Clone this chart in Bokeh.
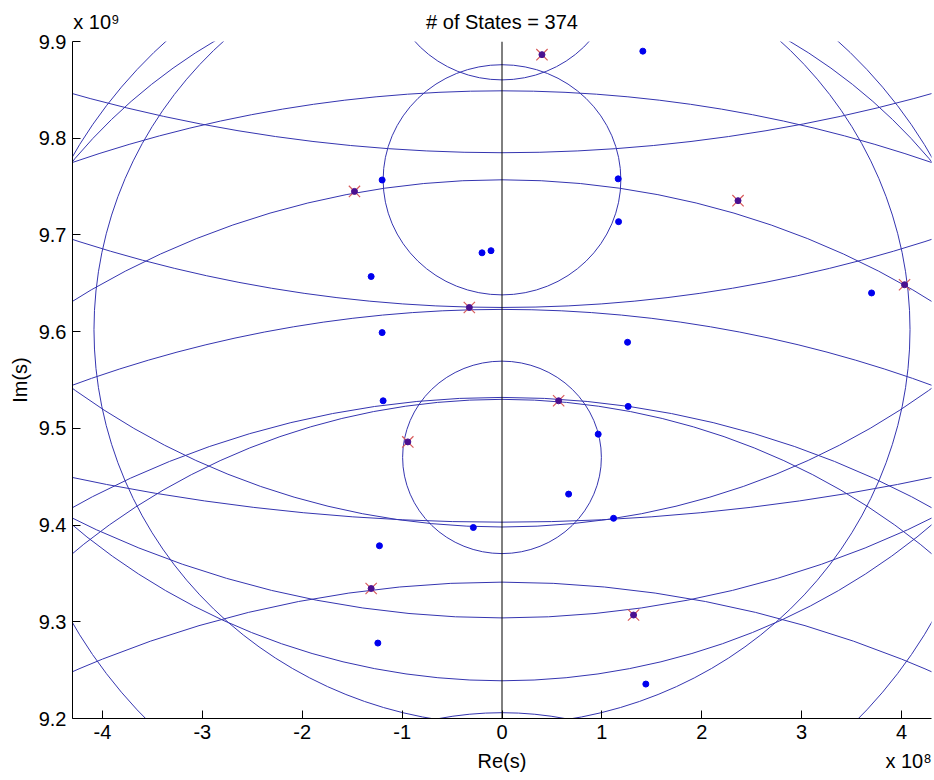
import numpy as np
from bokeh.plotting import figure
from bokeh.models import FixedTicker, Span, LinearAxis, AllLabels
from bokeh.embed import file_html
from bokeh.resources import INLINE

# ---- data (s-plane) ----
# circles centred on the imaginary axis: centre Im(s) and radius
circle_center_im = [9.602e9, 9.757e9, 9.470e9, 9.976e9, 8.871e9, 9.540e9, 9.4285e9,
                    8.563e9, 11.331e9, 8.957e9, 10.975e9, 8.403e9, 8.870e9, 8.662e9,
                    10.115e9, 11.433e9, 8.296e9, 10.254e9, 9.894e9]
circle_radius = [4.085e8, 1.19e8, 0.995e8, 1.157e8, 3.35e8, 4.93e8, 5.53e8,
                 12.86e8, 15.46e8, 8.0e8, 13.5e8, 12.2e8, 6.6e8, 8.70e8,
                 7.17e8, 20.3e8, 10.45e8, 9.5e8, 6.55e8]

state_re = [-1.20e8, 1.163e8, 1.167e8, -0.20e8, -0.11e8, 1.41e8, -1.31e8, -1.20e8, 1.257e8,
            -1.19e8, 1.263e8, 0.963e8, 0.667e8, 1.117e8, -0.287e8, -1.227e8, -1.243e8,
            1.44e8, 3.70e8]
state_im = [9.7568e9, 9.758e9, 9.7137e9, 9.6815e9, 9.6837e9, 9.890e9, 9.657e9, 9.599e9, 9.589e9,
            9.5285e9, 9.5227e9, 9.494e9, 9.432e9, 9.407e9, 9.3975e9, 9.3786e9, 9.278e9,
            9.2356e9, 9.640e9]

marked_re = [2.363e8, 0.40e8, -1.477e8, -0.327e8, 4.03e8, 0.567e8, -0.943e8, -1.31e8, 1.317e8]
marked_im = [9.7354e9, 9.8864e9, 9.745e9, 9.625e9, 9.6485e9, 9.5285e9, 9.486e9, 9.3344e9, 9.307e9]

x_ticks = [-4e8, -3e8, -2e8, -1e8, 0, 1e8, 2e8, 3e8, 4e8]
x_tick_labels = ["-4", "-3", "-2", "-1", "0", "1", "2", "3", "4"]
y_ticks = [9.2e9, 9.3e9, 9.4e9, 9.5e9, 9.6e9, 9.7e9, 9.8e9, 9.9e9]
y_tick_labels = ["9.2", "9.3", "9.4", "9.5", "9.6", "9.7", "9.8", "9.9"]

title_text = "# of States = 374"
x_label_text = "Re(s)"
y_label_text = "Im(s)"
x_exponent_text = "x 10\u2078"
y_exponent_text = "x 10\u2079"

# layout anchors (along the x axis) for the texts that sit in the margins
TEXT_TOP_POS = [0.0, -4.06e8]
TEXT_BOTTOM_POS = [0.0, 4.07e8]

FONT = "Liberation Sans"
FS = "20px"
LINE = "#3535b0"

p = figure(width=934, height=780, output_backend="svg", toolbar_location=None,
           x_range=(-4.3e8, 4.3e8), y_range=(9.2e9, 9.9e9),
           min_border_left=72, min_border_right=3, min_border_top=41, min_border_bottom=62)
p.outline_line_color = None
p.xgrid.grid_line_color = None
p.ygrid.grid_line_color = None
p.background_fill_color = "white"
p.border_fill_color = "white"

n = len(circle_radius)
diam = [2 * r for r in circle_radius]
p.ellipse(x=[0.0] * n, y=circle_center_im, width=diam, height=diam,
          fill_color=None, line_color=LINE, line_width=1)

p.add_layout(Span(location=0, dimension="height", line_color="black", line_width=1))

p.scatter(state_re, state_im, marker="circle", size=6, color="#0000ee")
p.scatter(marked_re, marked_im, marker="x", size=16, line_color="#d85c5c", line_width=1.2)
p.scatter(marked_re, marked_im, marker="circle", size=6, color="#4a1090")

for ax in (p.xaxis[0], p.yaxis[0]):
    ax.major_tick_in = 8
    ax.major_tick_out = 0
    ax.minor_tick_line_color = None
    ax.axis_line_color = "black"
    ax.major_tick_line_color = "black"
    ax.major_label_text_font = FONT
    ax.major_label_text_font_size = FS
    ax.major_label_text_color = "black"
    ax.axis_label_text_font = FONT
    ax.axis_label_text_font_size = FS
    ax.axis_label_text_font_style = "normal"
    ax.axis_label_text_color = "black"
    ax.major_label_standoff = 6

p.xaxis.ticker = FixedTicker(ticks=x_ticks)
p.xaxis.major_label_overrides = dict(zip(x_ticks, x_tick_labels))
p.yaxis.ticker = FixedTicker(ticks=y_ticks)
p.yaxis.major_label_overrides = dict(zip(y_ticks, y_tick_labels))
p.yaxis.axis_label = y_label_text
p.yaxis.axis_label_standoff = 5
p.yaxis.major_label_orientation = "horizontal"


def text_axis(positions, texts, standoff):
    ax = LinearAxis(ticker=FixedTicker(ticks=positions),
                    major_label_overrides=dict(zip(positions, texts)))
    ax.axis_line_color = None
    ax.major_tick_line_color = None
    ax.minor_tick_line_color = None
    ax.major_tick_in = 0
    ax.major_tick_out = 0
    ax.major_label_standoff = standoff
    ax.major_label_text_font = FONT
    ax.major_label_text_font_size = FS
    ax.major_label_text_color = "black"
    ax.major_label_policy = AllLabels()
    return ax


p.add_layout(text_axis(TEXT_TOP_POS, [title_text, y_exponent_text], 9), "above")
p.add_layout(text_axis(TEXT_BOTTOM_POS, [x_label_text, x_exponent_text], 8), "below")

open("out.html", "w").write(file_html(p, INLINE))
